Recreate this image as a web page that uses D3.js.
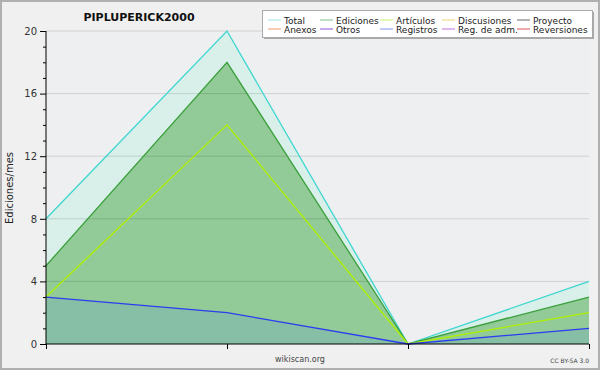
<!DOCTYPE html>
<html><head><meta charset="utf-8">
<script src="https://cdn.jsdelivr.net/npm/d3@7"></script>
<style>body{margin:0;background:#f0f0f0}svg{display:block}text{font-family:"DejaVu Sans",sans-serif}</style>
</head><body><svg id="c" width="600" height="370"></svg>
<script>
const title = "PIPLUPERICK2000";
const yLabel = "Ediciones/mes";
const periods = ["p1", "p2", "p3", "p4"];
const total = [8, 20, 0, 4];
const ediciones = [5, 18, 0, 3];
const articulos = [3, 14, 0, 2];
const registros = [3, 2, 0, 1];
const yTicks = [0, 4, 8, 12, 16, 20];
const legendRow1 = ["Total", "Ediciones", "Artículos", "Discusiones", "Proyecto"];
const legendRow2 = ["Anexos", "Otros", "Registros", "Reg. de adm.", "Reversiones"];
const legendColors1 = ["#9fe6e4", "#7cc58a", "#c6f06a", "#f2d370", "#6a6a6a"];
const legendColors2 = ["#f2956a", "#8b55d2", "#8590f0", "#c56ee0", "#e05555"];

const svg = d3.select("#c");
const W = 600, H = 370;
const x = d3.scalePoint().domain(periods).range([46, 589]);
const y = d3.scaleLinear().domain([0, 20]).range([344, 31]);

svg.append("rect").attr("x", 0).attr("y", 0).attr("width", W).attr("height", H).attr("fill", "#f0f0f0");
svg.append("rect").attr("x", 1).attr("y", 1).attr("width", W - 2).attr("height", H - 2)
  .attr("fill", "none").attr("stroke", "#b0b0b0").attr("stroke-width", 2);
svg.append("rect").attr("x", 46).attr("y", 31).attr("width", 543).attr("height", 313).attr("fill", "#eeeff1");

const series = [
  {v: total, fill: "#d8f0e9", stroke: "#3fd6d0"},
  {v: ediciones, fill: "#92cb97", stroke: "#3a9f3c"},
  {v: articulos, fill: null, stroke: "#aef000"},
  {v: registros, fill: "#86bfa5", stroke: "#2c3cf0"}
];
const area = vals => d3.area().x((d, i) => x(periods[i])).y0(y(0)).y1(d => y(d))(vals);
const line = vals => d3.line().x((d, i) => x(periods[i])).y(d => y(d))(vals);
series.forEach(s => { if (s.fill) svg.append("path").attr("d", area(s.v)).attr("fill", s.fill); });

// grid
svg.append("g").selectAll("line").data(yTicks.filter(t => t > 0)).join("line")
  .attr("x1", 46).attr("x2", 589).attr("y1", d => y(d)).attr("y2", d => y(d))
  .attr("stroke", "#000").attr("stroke-opacity", 0.13);

series.forEach(s => svg.append("path").attr("d", line(s.v)).attr("fill", "none")
  .attr("stroke", s.stroke).attr("stroke-width", 1.3));

// y axis
const yAxis = d3.axisLeft(y).tickValues(yTicks).tickSize(6).tickPadding(3);
const gy = svg.append("g").attr("transform", "translate(46,0)").call(yAxis);
gy.select(".domain").attr("d", "M0,31V344").attr("stroke", "#000");
gy.selectAll("text").attr("font-size", 10).attr("fill", "#333").attr("font-family", "DejaVu Sans");
const yMinor = d3.axisLeft(y).tickValues(d3.range(0, 21).filter(t => t % 4)).tickSize(3).tickFormat("");
const gm = svg.append("g").attr("transform", "translate(46,0)").call(yMinor);
gm.select(".domain").remove();

// x axis
const xAxis = d3.axisBottom(x).tickSize(5).tickFormat("");
const gx = svg.append("g").attr("transform", "translate(0,344)").call(xAxis);
gx.select(".domain").attr("d", "M46,0H589").attr("stroke", "#000");

// titles
svg.append("text").attr("x", 139).attr("y", 21).attr("text-anchor", "middle")
  .attr("font-size", 11).attr("font-weight", "bold").attr("fill", "#111").text(title);
svg.append("text").attr("transform", "translate(13,188) rotate(-90)").attr("text-anchor", "middle")
  .attr("font-size", 10).attr("fill", "#222").text(yLabel);
svg.append("text").attr("x", 300).attr("y", 362).attr("text-anchor", "middle")
  .attr("font-size", 8).attr("fill", "#444").text("wikiscan.org");
svg.append("text").attr("x", 589).attr("y", 363).attr("text-anchor", "end")
  .attr("font-size", 6).attr("fill", "#444").text("CC BY-SA 3.0");

// legend
svg.append("rect").attr("x", 264).attr("y", 12).attr("width", 330).attr("height", 27).attr("fill", "#a8a8a8");
svg.append("rect").attr("x", 262.5).attr("y", 10.5).attr("width", 330).attr("height", 27)
  .attr("fill", "#fff").attr("stroke", "#aaa");
const colX = [268, 320, 380, 442, 517];
[[legendRow1, legendColors1, 20, 23.5], [legendRow2, legendColors2, 29, 32.5]].forEach(([labels, cols, ly, ty]) => {
  labels.forEach((lab, i) => {
    svg.append("line").attr("x1", colX[i]).attr("x2", colX[i] + 13).attr("y1", ly).attr("y2", ly)
      .attr("stroke", cols[i]).attr("stroke-width", 1);
    svg.append("text").attr("x", colX[i] + 16).attr("y", ty).attr("font-size", 9).attr("fill", "#222").text(lab);
  });
});
</script></body></html>
